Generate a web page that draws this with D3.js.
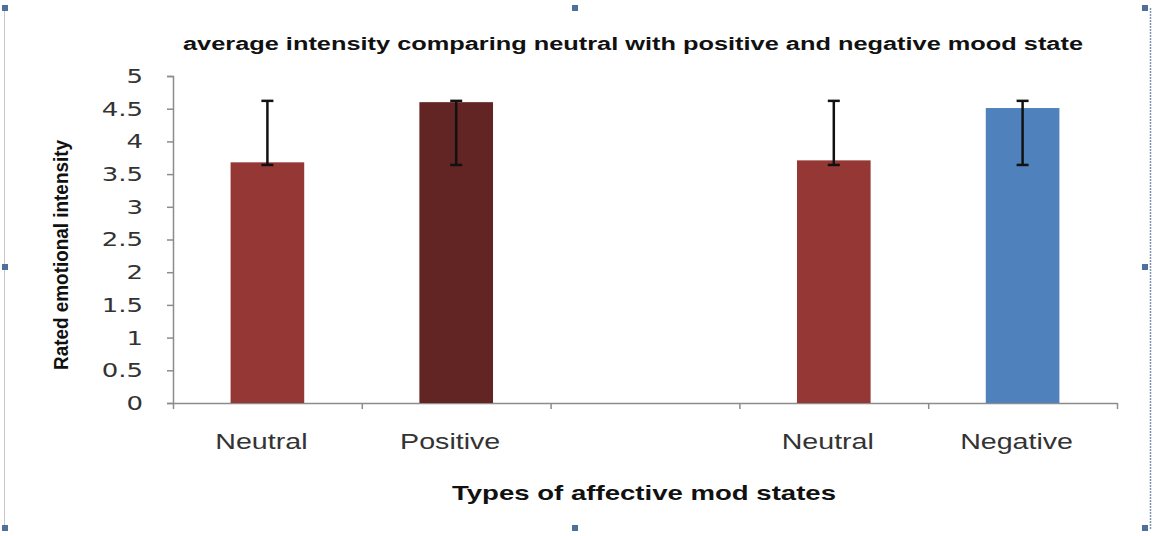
<!DOCTYPE html>
<html>
<head>
<meta charset="utf-8">
<script src="https://cdn.jsdelivr.net/npm/d3@7"></script>
<style>
  body { margin: 0; background: #fff; }
  svg { display: block; }
</style>
</head>
<body>
<svg id="chart"></svg>
<script>
// data
const categories = ["Neutral", "Positive", "", "Neutral", "Negative"];
const means = [3.68, 4.60, null, 3.71, 4.51];
const errLow = [3.64, 3.64, null, 3.64, 3.64];
const errHigh = [4.62, 4.62, null, 4.62, 4.62];
const barColors = ["#953735", "#632523", null, "#953735", "#4F81BD"];
const yTicks = [0, 0.5, 1, 1.5, 2, 2.5, 3, 3.5, 4, 4.5, 5];

const W = 1154, H = 536;
const margin = {top: 76, right: 37, bottom: 133, left: 173};
const width = W - margin.left - margin.right;
const height = H - margin.top - margin.bottom;

// the original picture is stretched sideways a bit
const stretch = 1.3;
function widen(sel) {
  sel.each(function () {
    const len = this.getComputedTextLength();
    d3.select(this).attr("textLength", len * stretch).attr("lengthAdjust", "spacingAndGlyphs");
  });
}

const svg = d3.select("#chart").attr("width", W).attr("height", H);

// frame of the embedded object (selection handles)
svg.append("line").attr("x1", 4.5).attr("x2", 4.5).attr("y1", 8).attr("y2", 530)
  .attr("stroke", "#c8c8c8").attr("stroke-width", 1);
svg.append("line").attr("x1", 1150.5).attr("x2", 1150.5).attr("y1", 8).attr("y2", 530)
  .attr("stroke", "#7f95b5").attr("stroke-width", 1.5).attr("stroke-dasharray", "2,1");
const handles = [[5, 8], [575, 8], [1145, 8], [5, 267], [1145, 267], [5, 528], [575, 528], [1145, 528]];
svg.selectAll("rect.handle").data(handles).join("rect")
  .attr("class", "handle")
  .attr("x", d => d[0] - 3).attr("y", d => d[1] - 3)
  .attr("width", 6).attr("height", 6)
  .attr("fill", "#4f6f9c");

const chart = svg.append("g").attr("transform", `translate(${margin.left},${margin.top})`);

const idx = d3.range(categories.length);
const x = d3.scaleBand().domain(idx).range([0, width]).paddingInner(0.61).paddingOuter(0.305);
const xEdge = d3.scaleLinear().domain([0, categories.length]).range([0, width]);
const y = d3.scaleLinear().domain([0, 5]).range([height, 0]);

// y axis
const yAxisG = chart.append("g").call(d3.axisLeft(y).tickValues(yTicks).tickSize(6).tickPadding(24).tickFormat(d => String(d)));
yAxisG.select(".domain").attr("stroke", "#8c8c8c").attr("stroke-width", 1.5);
yAxisG.selectAll(".tick line").attr("stroke", "#8c8c8c").attr("stroke-width", 1.5);
yAxisG.selectAll(".tick text")
  .attr("fill", "#333").style("font-family", "'DejaVu Sans', sans-serif").style("font-size", "20px")
  .call(widen);

// x axis: ticks on the category boundaries
const xAxisG = chart.append("g").attr("transform", `translate(0,${height})`)
  .call(d3.axisBottom(xEdge).tickValues(d3.range(categories.length + 1)).tickSize(6).tickSizeOuter(0).tickFormat(""));
xAxisG.select(".domain").attr("stroke", "#8c8c8c").attr("stroke-width", 1.5);
xAxisG.selectAll(".tick line").attr("stroke", "#8c8c8c").attr("stroke-width", 1.5);

// category labels
chart.selectAll("text.cat").data(idx.filter(i => categories[i])).join("text")
  .attr("class", "cat")
  .attr("x", i => x(i) + x.bandwidth() / 2 - 6)
  .attr("y", height + 46)
  .attr("text-anchor", "middle")
  .attr("fill", "#333")
  .style("font-family", "'Liberation Sans', sans-serif")
  .style("font-size", "22px")
  .text(i => categories[i])
  .call(widen);

// bars
const barIdx = idx.filter(i => means[i] != null);
chart.selectAll("rect.bar").data(barIdx).join("rect")
  .attr("class", "bar")
  .attr("x", i => x(i))
  .attr("y", i => y(means[i]))
  .attr("width", x.bandwidth())
  .attr("height", i => height - y(means[i]))
  .attr("fill", i => barColors[i]);

// error bars
const err = chart.selectAll("g.err").data(barIdx).join("g").attr("class", "err")
  .attr("transform", i => `translate(${x(i) + x.bandwidth() / 2},0)`);
err.append("line").attr("y1", i => y(errLow[i])).attr("y2", i => y(errHigh[i]))
  .attr("stroke", "#111").attr("stroke-width", 2.5);
err.append("line").attr("x1", -6).attr("x2", 6).attr("y1", i => y(errHigh[i])).attr("y2", i => y(errHigh[i]))
  .attr("stroke", "#111").attr("stroke-width", 2.5);
err.append("line").attr("x1", -6).attr("x2", 6).attr("y1", i => y(errLow[i])).attr("y2", i => y(errLow[i]))
  .attr("stroke", "#111").attr("stroke-width", 2.5);

// title
svg.append("text")
  .attr("x", 633).attr("y", 50)
  .attr("text-anchor", "middle")
  .attr("textLength", 900).attr("lengthAdjust", "spacingAndGlyphs")
  .style("font-family", "'Liberation Sans Narrow', 'Liberation Sans', sans-serif")
  .style("font-size", "18px").style("font-weight", "700")
  .attr("fill", "#111")
  .text("average intensity comparing neutral with positive and negative mood state");

// y label
svg.append("text")
  .attr("transform", "translate(68,255) rotate(-90)")
  .attr("text-anchor", "middle")
  .attr("textLength", 230).attr("lengthAdjust", "spacingAndGlyphs")
  .style("font-family", "'Liberation Sans Narrow', 'Liberation Sans', sans-serif")
  .style("font-size", "20px").style("font-weight", "700")
  .attr("fill", "#111")
  .text("Rated emotional intensity");

// x label
svg.append("text")
  .attr("x", 644).attr("y", 500)
  .attr("text-anchor", "middle")
  .attr("textLength", 384).attr("lengthAdjust", "spacingAndGlyphs")
  .style("font-family", "'Liberation Sans Narrow', 'Liberation Sans', sans-serif")
  .style("font-size", "21px").style("font-weight", "700")
  .attr("fill", "#111")
  .text("Types of affective mod states");
</script>
</body>
</html>
